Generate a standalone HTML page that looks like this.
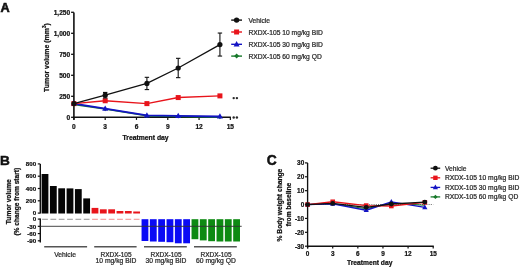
<!DOCTYPE html>
<html><head><meta charset="utf-8"><style>
html,body{margin:0;padding:0;background:#fff;overflow:hidden;}
svg{display:block;font-family:"Liberation Sans", sans-serif;filter:blur(0.35px);}
</style></head><body>
<svg width="520" height="267" viewBox="0 0 520 267">
<rect width="520" height="267" fill="#fff"/>
<text x="0.60" y="11.50" font-size="12.7" text-anchor="start" font-weight="bold" fill="#111" stroke="#111" stroke-width="0.6" >A</text>
<line x1="73.90" y1="12.50" x2="73.90" y2="119.80" stroke="#111" stroke-width="1.6" />
<line x1="73.10" y1="117.30" x2="230.85" y2="117.30" stroke="#111" stroke-width="1.6" />
<line x1="71.10" y1="117.30" x2="73.90" y2="117.30" stroke="#111" stroke-width="1.3" />
<text x="70.20" y="119.70" font-size="6.6" text-anchor="end" font-weight="bold" fill="#111" stroke="#111" stroke-width="0.22" >0</text>
<line x1="71.10" y1="96.30" x2="73.90" y2="96.30" stroke="#111" stroke-width="1.3" />
<text x="70.20" y="98.70" font-size="6.6" text-anchor="end" font-weight="bold" fill="#111" stroke="#111" stroke-width="0.22" >250</text>
<line x1="71.10" y1="75.30" x2="73.90" y2="75.30" stroke="#111" stroke-width="1.3" />
<text x="70.20" y="77.70" font-size="6.6" text-anchor="end" font-weight="bold" fill="#111" stroke="#111" stroke-width="0.22" >500</text>
<line x1="71.10" y1="54.30" x2="73.90" y2="54.30" stroke="#111" stroke-width="1.3" />
<text x="70.20" y="56.70" font-size="6.6" text-anchor="end" font-weight="bold" fill="#111" stroke="#111" stroke-width="0.22" >750</text>
<line x1="71.10" y1="33.30" x2="73.90" y2="33.30" stroke="#111" stroke-width="1.3" />
<text x="70.20" y="35.70" font-size="6.6" text-anchor="end" font-weight="bold" fill="#111" stroke="#111" stroke-width="0.22" >1,000</text>
<line x1="71.10" y1="12.30" x2="73.90" y2="12.30" stroke="#111" stroke-width="1.3" />
<text x="70.20" y="14.70" font-size="6.6" text-anchor="end" font-weight="bold" fill="#111" stroke="#111" stroke-width="0.22" >1,250</text>
<line x1="73.90" y1="117.30" x2="73.90" y2="119.90" stroke="#111" stroke-width="1.2" />
<text x="73.90" y="128.90" font-size="6.6" text-anchor="middle" font-weight="bold" fill="#111" stroke="#111" stroke-width="0.22" >0</text>
<line x1="105.19" y1="117.30" x2="105.19" y2="119.90" stroke="#111" stroke-width="1.2" />
<text x="105.19" y="128.90" font-size="6.6" text-anchor="middle" font-weight="bold" fill="#111" stroke="#111" stroke-width="0.22" >3</text>
<line x1="136.48" y1="117.30" x2="136.48" y2="119.90" stroke="#111" stroke-width="1.2" />
<text x="136.48" y="128.90" font-size="6.6" text-anchor="middle" font-weight="bold" fill="#111" stroke="#111" stroke-width="0.22" >6</text>
<line x1="167.77" y1="117.30" x2="167.77" y2="119.90" stroke="#111" stroke-width="1.2" />
<text x="167.77" y="128.90" font-size="6.6" text-anchor="middle" font-weight="bold" fill="#111" stroke="#111" stroke-width="0.22" >9</text>
<line x1="199.06" y1="117.30" x2="199.06" y2="119.90" stroke="#111" stroke-width="1.2" />
<text x="199.06" y="128.90" font-size="6.6" text-anchor="middle" font-weight="bold" fill="#111" stroke="#111" stroke-width="0.22" >12</text>
<line x1="230.35" y1="117.30" x2="230.35" y2="119.90" stroke="#111" stroke-width="1.2" />
<text x="230.35" y="128.90" font-size="6.6" text-anchor="middle" font-weight="bold" fill="#111" stroke="#111" stroke-width="0.22" >15</text>
<text x="145.60" y="140.10" font-size="6.8" text-anchor="middle" font-weight="bold" fill="#111" stroke="#111" stroke-width="0.22" >Treatment day</text>
<text transform="translate(48.6,57.55) rotate(-90)" font-size="6.95" text-anchor="middle" font-weight="bold" fill="#111" stroke="#111" stroke-width="0.22">Tumor volume (mm<tspan font-size="4.6" dy="-2.3">3</tspan><tspan dy="2.3">)</tspan></text>
<polyline points="73.90,104.41 105.19,109.03 146.91,115.83 178.20,116.42 219.92,117.09" fill="none" stroke="#17782a" stroke-width="1.6" stroke-linejoin="round"/>
<polyline points="73.90,103.61 105.19,108.65 146.91,115.37 178.20,115.87 219.92,116.46" fill="none" stroke="#1414c4" stroke-width="1.9" stroke-linejoin="round"/>
<polygon points="73.90,102.31 76.00,104.41 73.90,106.51 71.80,104.41" fill="#17782a"/>
<polygon points="105.19,106.93 107.29,109.03 105.19,111.13 103.09,109.03" fill="#17782a"/>
<polygon points="146.91,113.73 149.01,115.83 146.91,117.93 144.81,115.83" fill="#17782a"/>
<polygon points="178.20,114.32 180.30,116.42 178.20,118.52 176.10,116.42" fill="#17782a"/>
<polygon points="219.92,114.99 222.02,117.09 219.92,119.19 217.82,117.09" fill="#17782a"/>
<polygon points="73.90,100.37 76.90,105.77 70.90,105.77" fill="#1414c4"/>
<polygon points="105.19,105.41 108.19,110.81 102.19,110.81" fill="#1414c4"/>
<polygon points="146.91,112.13 149.91,117.53 143.91,117.53" fill="#1414c4"/>
<polygon points="178.20,112.63 181.20,118.03 175.20,118.03" fill="#1414c4"/>
<polygon points="219.92,113.22 222.92,118.62 216.92,118.62" fill="#1414c4"/>
<polyline points="73.90,103.61 105.19,100.75 146.91,103.61 178.20,97.56 219.92,95.88" fill="none" stroke="#e8141b" stroke-width="1.4" stroke-linejoin="round"/>
<rect x="71.40" y="101.11" width="5.0" height="5.0" fill="#e8141b"/>
<rect x="102.69" y="98.25" width="5.0" height="5.0" fill="#e8141b"/>
<rect x="144.41" y="101.11" width="5.0" height="5.0" fill="#e8141b"/>
<rect x="175.70" y="95.06" width="5.0" height="5.0" fill="#e8141b"/>
<rect x="217.42" y="93.38" width="5.0" height="5.0" fill="#e8141b"/>
<polyline points="73.90,103.61 105.19,95.21 146.91,83.45 178.20,67.99 219.92,44.56" fill="none" stroke="#111" stroke-width="1.3" stroke-linejoin="round"/>
<circle cx="73.90" cy="103.61" r="2.6" fill="#111"/>
<line x1="105.19" y1="92.44" x2="105.19" y2="97.98" stroke="#111" stroke-width="1.1" />
<line x1="102.99" y1="92.44" x2="107.39" y2="92.44" stroke="#111" stroke-width="1.1" />
<line x1="102.99" y1="97.98" x2="107.39" y2="97.98" stroke="#111" stroke-width="1.1" />
<circle cx="105.19" cy="95.21" r="2.6" fill="#111"/>
<line x1="146.91" y1="77.32" x2="146.91" y2="89.58" stroke="#111" stroke-width="1.1" />
<line x1="144.71" y1="77.32" x2="149.11" y2="77.32" stroke="#111" stroke-width="1.1" />
<line x1="144.71" y1="89.58" x2="149.11" y2="89.58" stroke="#111" stroke-width="1.1" />
<circle cx="146.91" cy="83.45" r="2.6" fill="#111"/>
<line x1="178.20" y1="58.33" x2="178.20" y2="77.65" stroke="#111" stroke-width="1.1" />
<line x1="176.00" y1="58.33" x2="180.40" y2="58.33" stroke="#111" stroke-width="1.1" />
<line x1="176.00" y1="77.65" x2="180.40" y2="77.65" stroke="#111" stroke-width="1.1" />
<circle cx="178.20" cy="67.99" r="2.6" fill="#111"/>
<line x1="219.92" y1="33.05" x2="219.92" y2="56.06" stroke="#111" stroke-width="1.1" />
<line x1="217.72" y1="33.05" x2="222.12" y2="33.05" stroke="#111" stroke-width="1.1" />
<line x1="217.72" y1="56.06" x2="222.12" y2="56.06" stroke="#111" stroke-width="1.1" />
<circle cx="219.92" cy="44.56" r="2.6" fill="#111"/>
<circle cx="233.70" cy="98.10" r="1.2" fill="#2a2a2a"/>
<circle cx="236.90" cy="98.10" r="1.2" fill="#2a2a2a"/>
<circle cx="233.70" cy="117.50" r="1.2" fill="#2a2a2a"/>
<circle cx="236.90" cy="117.50" r="1.2" fill="#2a2a2a"/>
<line x1="231.20" y1="20.10" x2="242.00" y2="20.10" stroke="#111" stroke-width="1.4" />
<circle cx="236.60" cy="20.10" r="2.7" fill="#111"/>
<text x="248.50" y="23.00" font-size="6.7" text-anchor="start" font-weight="normal" fill="#2a2a2a" stroke="#2a2a2a" stroke-width="0.24" >Vehicle</text>
<line x1="231.20" y1="32.00" x2="242.00" y2="32.00" stroke="#e8141b" stroke-width="1.4" />
<rect x="234.10" y="29.50" width="5.0" height="5.0" fill="#e8141b"/>
<text x="248.50" y="34.90" font-size="6.7" text-anchor="start" font-weight="normal" fill="#2a2a2a" stroke="#2a2a2a" stroke-width="0.24" >RXDX-105 10 mg/kg BID</text>
<line x1="231.20" y1="44.30" x2="242.00" y2="44.30" stroke="#1414c4" stroke-width="1.4" />
<polygon points="236.60,41.06 239.60,46.46 233.60,46.46" fill="#1414c4"/>
<text x="248.50" y="47.20" font-size="6.7" text-anchor="start" font-weight="normal" fill="#2a2a2a" stroke="#2a2a2a" stroke-width="0.24" >RXDX-105 30 mg/kg BID</text>
<line x1="231.20" y1="56.10" x2="242.00" y2="56.10" stroke="#17782a" stroke-width="1.4" />
<polygon points="236.60,53.60 239.10,56.10 236.60,58.60 234.10,56.10" fill="#17782a"/>
<text x="248.50" y="59.00" font-size="6.7" text-anchor="start" font-weight="normal" fill="#2a2a2a" stroke="#2a2a2a" stroke-width="0.24" >RXDX-105 60 mg/kg QD</text>
<text x="0.00" y="164.90" font-size="13.6" text-anchor="start" font-weight="bold" fill="#111" stroke="#111" stroke-width="0.5" >B</text>
<line x1="40.30" y1="163.90" x2="40.30" y2="213.50" stroke="#111" stroke-width="1.4" />
<line x1="37.80" y1="213.10" x2="40.30" y2="213.10" stroke="#111" stroke-width="1.2" />
<text x="36.20" y="215.30" font-size="6.2" text-anchor="end" font-weight="bold" fill="#111" stroke="#111" stroke-width="0.22" >0</text>
<line x1="37.80" y1="200.80" x2="40.30" y2="200.80" stroke="#111" stroke-width="1.2" />
<text x="36.20" y="203.00" font-size="6.2" text-anchor="end" font-weight="bold" fill="#111" stroke="#111" stroke-width="0.22" >200</text>
<line x1="37.80" y1="188.50" x2="40.30" y2="188.50" stroke="#111" stroke-width="1.2" />
<text x="36.20" y="190.70" font-size="6.2" text-anchor="end" font-weight="bold" fill="#111" stroke="#111" stroke-width="0.22" >400</text>
<line x1="37.80" y1="176.20" x2="40.30" y2="176.20" stroke="#111" stroke-width="1.2" />
<text x="36.20" y="178.40" font-size="6.2" text-anchor="end" font-weight="bold" fill="#111" stroke="#111" stroke-width="0.22" >600</text>
<line x1="37.80" y1="163.90" x2="40.30" y2="163.90" stroke="#111" stroke-width="1.2" />
<text x="36.20" y="166.10" font-size="6.2" text-anchor="end" font-weight="bold" fill="#111" stroke="#111" stroke-width="0.22" >800</text>
<line x1="40.30" y1="218.60" x2="40.30" y2="242.60" stroke="#111" stroke-width="1.4" />
<line x1="37.80" y1="219.10" x2="40.30" y2="219.10" stroke="#111" stroke-width="1.2" />
<text x="36.20" y="221.30" font-size="6.2" text-anchor="end" font-weight="bold" fill="#111" stroke="#111" stroke-width="0.22" >0</text>
<line x1="37.80" y1="226.33" x2="40.30" y2="226.33" stroke="#111" stroke-width="1.2" />
<text x="36.20" y="228.53" font-size="6.2" text-anchor="end" font-weight="bold" fill="#111" stroke="#111" stroke-width="0.22" >-30</text>
<line x1="37.80" y1="233.57" x2="40.30" y2="233.57" stroke="#111" stroke-width="1.2" />
<text x="36.20" y="235.77" font-size="6.2" text-anchor="end" font-weight="bold" fill="#111" stroke="#111" stroke-width="0.22" >-60</text>
<line x1="37.80" y1="240.80" x2="40.30" y2="240.80" stroke="#111" stroke-width="1.2" />
<text x="36.20" y="243.00" font-size="6.2" text-anchor="end" font-weight="bold" fill="#111" stroke="#111" stroke-width="0.22" >-90</text>
<text transform="translate(10.6,201.7) rotate(-90)" font-size="6.6" text-anchor="middle" font-weight="bold" fill="#111" stroke="#111" stroke-width="0.22">Tumor volume</text>
<text transform="translate(19.0,201.7) rotate(-90)" font-size="6.6" text-anchor="middle" font-weight="bold" fill="#111" stroke="#111" stroke-width="0.22">(% change from start)</text>
<rect x="41.60" y="174.0" width="6.8" height="39.50" fill="#050505"/>
<rect x="42.10" y="218.8" width="5.80" height="0.9" fill="#888"/>
<rect x="49.93" y="186.0" width="6.8" height="27.50" fill="#050505"/>
<rect x="50.43" y="218.8" width="5.80" height="0.9" fill="#888"/>
<rect x="58.26" y="188.3" width="6.8" height="25.20" fill="#050505"/>
<rect x="58.76" y="218.8" width="5.80" height="0.9" fill="#888"/>
<rect x="66.59" y="188.4" width="6.8" height="25.10" fill="#050505"/>
<rect x="67.09" y="218.8" width="5.80" height="0.9" fill="#888"/>
<rect x="74.92" y="189.1" width="6.8" height="24.40" fill="#050505"/>
<rect x="75.42" y="218.8" width="5.80" height="0.9" fill="#888"/>
<rect x="83.25" y="198.4" width="6.8" height="15.10" fill="#050505"/>
<rect x="83.75" y="218.8" width="5.80" height="0.9" fill="#888"/>
<rect x="91.58" y="207.9" width="6.8" height="5.60" fill="#e8141b"/>
<rect x="92.08" y="218.8" width="5.80" height="0.9" fill="#f08080"/>
<rect x="99.91" y="209.3" width="6.8" height="4.20" fill="#e8141b"/>
<rect x="100.41" y="218.8" width="5.80" height="0.9" fill="#f08080"/>
<rect x="108.24" y="209.3" width="6.8" height="4.20" fill="#e8141b"/>
<rect x="108.74" y="218.8" width="5.80" height="0.9" fill="#f08080"/>
<rect x="116.57" y="211.0" width="6.8" height="2.50" fill="#e8141b"/>
<rect x="117.07" y="218.8" width="5.80" height="0.9" fill="#f08080"/>
<rect x="124.90" y="211.0" width="6.8" height="2.50" fill="#e8141b"/>
<rect x="125.40" y="218.8" width="5.80" height="0.9" fill="#f08080"/>
<rect x="133.23" y="211.5" width="6.8" height="2.00" fill="#e8141b"/>
<rect x="133.73" y="218.8" width="5.80" height="0.9" fill="#f08080"/>
<rect x="141.56" y="219.2" width="6.8" height="21.80" fill="#0a0af5"/>
<rect x="149.89" y="219.2" width="6.8" height="22.30" fill="#0a0af5"/>
<rect x="158.22" y="219.2" width="6.8" height="22.60" fill="#0a0af5"/>
<rect x="166.55" y="219.2" width="6.8" height="23.00" fill="#0a0af5"/>
<rect x="174.88" y="219.2" width="6.8" height="24.10" fill="#0a0af5"/>
<rect x="183.21" y="219.2" width="6.8" height="24.10" fill="#0a0af5"/>
<rect x="191.54" y="219.2" width="6.8" height="20.00" fill="#0d8a12"/>
<rect x="199.87" y="219.2" width="6.8" height="21.20" fill="#0d8a12"/>
<rect x="208.20" y="219.2" width="6.8" height="22.00" fill="#0d8a12"/>
<rect x="216.53" y="219.2" width="6.8" height="22.30" fill="#0d8a12"/>
<rect x="224.86" y="219.2" width="6.8" height="22.30" fill="#0d8a12"/>
<rect x="233.19" y="219.2" width="6.8" height="22.30" fill="#0d8a12"/>
<line x1="40.30" y1="226.30" x2="241.70" y2="226.30" stroke="#333" stroke-width="0.9" />
<line x1="44.20" y1="246.80" x2="87.10" y2="246.80" stroke="#555" stroke-width="1.5" />
<text x="65.10" y="256.80" font-size="6.75" text-anchor="middle" font-weight="normal" fill="#2a2a2a" stroke="#2a2a2a" stroke-width="0.24" >Vehicle</text>
<line x1="94.20" y1="246.80" x2="136.60" y2="246.80" stroke="#555" stroke-width="1.5" />
<text x="116.00" y="256.60" font-size="6.5" text-anchor="middle" font-weight="normal" fill="#2a2a2a" stroke="#2a2a2a" stroke-width="0.24" >RXDX-105</text>
<text x="116.00" y="262.90" font-size="6.75" text-anchor="middle" font-weight="normal" fill="#2a2a2a" stroke="#2a2a2a" stroke-width="0.24" >10 mg/kg BID</text>
<line x1="144.00" y1="246.80" x2="186.80" y2="246.80" stroke="#555" stroke-width="1.5" />
<text x="166.00" y="256.60" font-size="6.5" text-anchor="middle" font-weight="normal" fill="#2a2a2a" stroke="#2a2a2a" stroke-width="0.24" >RXDX-105</text>
<text x="166.00" y="262.90" font-size="6.75" text-anchor="middle" font-weight="normal" fill="#2a2a2a" stroke="#2a2a2a" stroke-width="0.24" >30 mg/kg BID</text>
<line x1="194.00" y1="246.80" x2="236.80" y2="246.80" stroke="#555" stroke-width="1.5" />
<text x="216.00" y="256.60" font-size="6.5" text-anchor="middle" font-weight="normal" fill="#2a2a2a" stroke="#2a2a2a" stroke-width="0.24" >RXDX-105</text>
<text x="216.00" y="262.90" font-size="6.75" text-anchor="middle" font-weight="normal" fill="#2a2a2a" stroke="#2a2a2a" stroke-width="0.24" >60 mg/kg QD</text>
<text x="266.80" y="165.10" font-size="13.8" text-anchor="start" font-weight="bold" fill="#111" stroke="#111" stroke-width="0.5" >C</text>
<line x1="307.60" y1="162.90" x2="307.60" y2="248.40" stroke="#111" stroke-width="1.35" />
<line x1="306.90" y1="246.20" x2="433.80" y2="246.20" stroke="#111" stroke-width="1.35" />
<line x1="305.00" y1="162.90" x2="307.60" y2="162.90" stroke="#111" stroke-width="1.2" />
<text x="304.20" y="165.20" font-size="6.4" text-anchor="end" font-weight="bold" fill="#111" stroke="#111" stroke-width="0.22" >30</text>
<line x1="305.00" y1="176.78" x2="307.60" y2="176.78" stroke="#111" stroke-width="1.2" />
<text x="304.20" y="179.08" font-size="6.4" text-anchor="end" font-weight="bold" fill="#111" stroke="#111" stroke-width="0.22" >20</text>
<line x1="305.00" y1="190.67" x2="307.60" y2="190.67" stroke="#111" stroke-width="1.2" />
<text x="304.20" y="192.97" font-size="6.4" text-anchor="end" font-weight="bold" fill="#111" stroke="#111" stroke-width="0.22" >10</text>
<line x1="305.00" y1="204.55" x2="307.60" y2="204.55" stroke="#111" stroke-width="1.2" />
<text x="304.20" y="206.85" font-size="6.4" text-anchor="end" font-weight="bold" fill="#111" stroke="#111" stroke-width="0.22" >0</text>
<line x1="305.00" y1="218.43" x2="307.60" y2="218.43" stroke="#111" stroke-width="1.2" />
<text x="304.20" y="220.73" font-size="6.4" text-anchor="end" font-weight="bold" fill="#111" stroke="#111" stroke-width="0.22" >-10</text>
<line x1="305.00" y1="232.32" x2="307.60" y2="232.32" stroke="#111" stroke-width="1.2" />
<text x="304.20" y="234.62" font-size="6.4" text-anchor="end" font-weight="bold" fill="#111" stroke="#111" stroke-width="0.22" >-20</text>
<line x1="305.00" y1="246.20" x2="307.60" y2="246.20" stroke="#111" stroke-width="1.2" />
<text x="304.20" y="248.50" font-size="6.4" text-anchor="end" font-weight="bold" fill="#111" stroke="#111" stroke-width="0.22" >-30</text>
<line x1="307.60" y1="246.20" x2="307.60" y2="248.40" stroke="#111" stroke-width="1.2" />
<text x="307.60" y="255.60" font-size="6.4" text-anchor="middle" font-weight="bold" fill="#111" stroke="#111" stroke-width="0.22" >0</text>
<line x1="332.72" y1="246.20" x2="332.72" y2="248.40" stroke="#111" stroke-width="1.2" />
<text x="332.72" y="255.60" font-size="6.4" text-anchor="middle" font-weight="bold" fill="#111" stroke="#111" stroke-width="0.22" >3</text>
<line x1="357.84" y1="246.20" x2="357.84" y2="248.40" stroke="#111" stroke-width="1.2" />
<text x="357.84" y="255.60" font-size="6.4" text-anchor="middle" font-weight="bold" fill="#111" stroke="#111" stroke-width="0.22" >6</text>
<line x1="382.96" y1="246.20" x2="382.96" y2="248.40" stroke="#111" stroke-width="1.2" />
<text x="382.96" y="255.60" font-size="6.4" text-anchor="middle" font-weight="bold" fill="#111" stroke="#111" stroke-width="0.22" >9</text>
<line x1="408.08" y1="246.20" x2="408.08" y2="248.40" stroke="#111" stroke-width="1.2" />
<text x="408.08" y="255.60" font-size="6.4" text-anchor="middle" font-weight="bold" fill="#111" stroke="#111" stroke-width="0.22" >12</text>
<line x1="433.20" y1="246.20" x2="433.20" y2="248.40" stroke="#111" stroke-width="1.2" />
<text x="433.20" y="255.60" font-size="6.4" text-anchor="middle" font-weight="bold" fill="#111" stroke="#111" stroke-width="0.22" >15</text>
<text x="369.70" y="264.50" font-size="6.7" text-anchor="middle" font-weight="bold" fill="#111" stroke="#111" stroke-width="0.22" >Treatment day</text>
<text transform="translate(282.3,205.1) rotate(-90)" font-size="6.7" text-anchor="middle" font-weight="bold" fill="#111" stroke="#111" stroke-width="0.22">% Body weight change</text>
<text transform="translate(290.6,204.5) rotate(-90)" font-size="6.7" text-anchor="middle" font-weight="bold" fill="#111" stroke="#111" stroke-width="0.22">from baseline</text>
<line x1="307.60" y1="204.50" x2="433.20" y2="204.50" stroke="#444" stroke-width="0.8" stroke-dasharray="1 1.2"/>
<polyline points="307.60,204.55 332.72,203.72 366.21,208.72 391.33,203.16 424.83,205.24" fill="none" stroke="#17782a" stroke-width="1.1" stroke-linejoin="round"/>
<polyline points="307.60,204.55 332.72,203.86 366.21,210.24 391.33,201.91 424.83,207.33" fill="none" stroke="#1414c4" stroke-width="1.4" stroke-linejoin="round"/>
<polygon points="307.60,201.74 310.20,206.42 305.00,206.42" fill="#1414c4"/>
<polygon points="332.72,201.05 335.32,205.73 330.12,205.73" fill="#1414c4"/>
<polygon points="366.21,207.43 368.81,212.11 363.61,212.11" fill="#1414c4"/>
<polygon points="391.33,199.10 393.93,203.78 388.73,203.78" fill="#1414c4"/>
<polygon points="424.83,204.52 427.43,209.20 422.23,209.20" fill="#1414c4"/>
<polyline points="307.60,204.55 332.72,201.77 366.21,205.59 391.33,206.01 424.83,202.33" fill="none" stroke="#e8141b" stroke-width="1.3" stroke-linejoin="round"/>
<rect x="305.30" y="202.25" width="4.6" height="4.6" fill="#e8141b"/>
<rect x="330.42" y="199.47" width="4.6" height="4.6" fill="#e8141b"/>
<rect x="363.91" y="203.29" width="4.6" height="4.6" fill="#e8141b"/>
<rect x="389.03" y="203.71" width="4.6" height="4.6" fill="#e8141b"/>
<rect x="422.53" y="200.03" width="4.6" height="4.6" fill="#e8141b"/>
<polyline points="307.60,204.55 332.72,203.44 366.21,207.33 391.33,203.99 424.83,202.05" fill="none" stroke="#111" stroke-width="1.3" stroke-linejoin="round"/>
<circle cx="307.60" cy="204.55" r="2.4" fill="#111"/>
<circle cx="332.72" cy="203.44" r="2.4" fill="#111"/>
<circle cx="366.21" cy="207.33" r="2.4" fill="#111"/>
<circle cx="391.33" cy="203.99" r="2.4" fill="#111"/>
<circle cx="424.83" cy="202.05" r="2.4" fill="#111"/>
<line x1="430.60" y1="168.20" x2="440.20" y2="168.20" stroke="#111" stroke-width="1.3" />
<circle cx="435.40" cy="168.20" r="2.4" fill="#111"/>
<text x="445.00" y="170.60" font-size="6.7" text-anchor="start" font-weight="normal" fill="#2a2a2a" stroke="#2a2a2a" stroke-width="0.24" >Vehicle</text>
<line x1="430.60" y1="177.80" x2="440.20" y2="177.80" stroke="#e8141b" stroke-width="1.3" />
<rect x="433.20" y="175.60" width="4.4" height="4.4" fill="#e8141b"/>
<text x="445.00" y="180.20" font-size="6.7" text-anchor="start" font-weight="normal" fill="#2a2a2a" stroke="#2a2a2a" stroke-width="0.24" >RXDX-105 10 mg/kg BID</text>
<line x1="430.60" y1="187.40" x2="440.20" y2="187.40" stroke="#1414c4" stroke-width="1.3" />
<polygon points="435.40,184.59 438.00,189.27 432.80,189.27" fill="#1414c4"/>
<text x="445.00" y="189.80" font-size="6.7" text-anchor="start" font-weight="normal" fill="#2a2a2a" stroke="#2a2a2a" stroke-width="0.24" >RXDX-105 30 mg/kg BID</text>
<line x1="430.60" y1="196.90" x2="440.20" y2="196.90" stroke="#17782a" stroke-width="1.3" />
<polygon points="435.40,194.70 437.60,196.90 435.40,199.10 433.20,196.90" fill="#17782a"/>
<text x="445.00" y="199.30" font-size="6.7" text-anchor="start" font-weight="normal" fill="#2a2a2a" stroke="#2a2a2a" stroke-width="0.24" >RXDX-105 60 mg/kg QD</text>
</svg>
</body></html>
